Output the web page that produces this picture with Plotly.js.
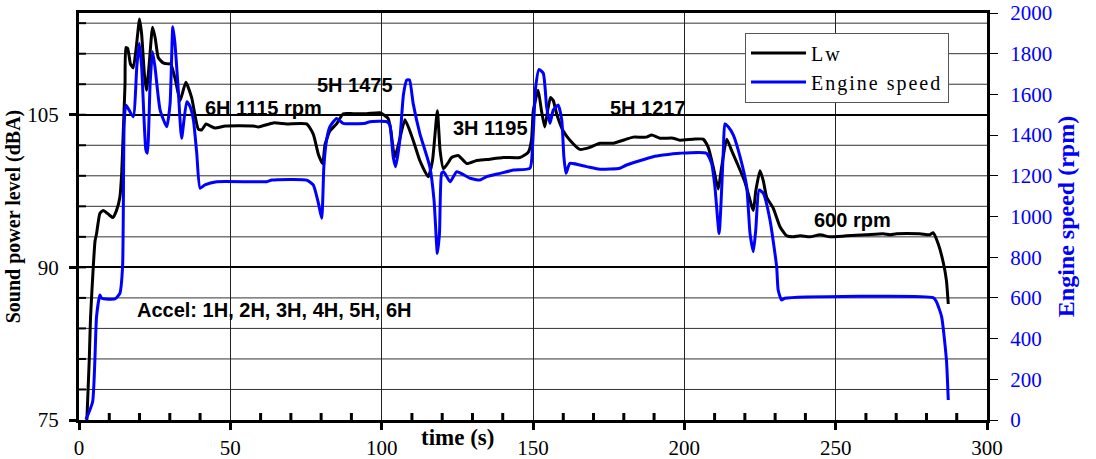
<!DOCTYPE html>
<html>
<head>
<meta charset="utf-8">
<script src="https://cdn.plot.ly/plotly-3.0.1.min.js"></script>
<style>
html,body{margin:0;padding:0;background:#fff;}
#chart{width:1096px;height:459px;}
.legendtext{letter-spacing:2px;}
</style>
</head>
<body>
<div id="chart"></div>
<script>
// Sound power level Lw (dBA) vs time (s)
const lwTime = [2.6,3.4,3.8,4.7,5.3,5.8,6.9,8,10.2,11.2,12.4,13.5,14.1,14.6,15.2,15.5,16.1,17,17.9,18.8,20.0,20.7,21.6,22.3,23.2,24.3,25.2,26.2,27.8,29.5,30.3,31.8,33.4,35.3,37.2,39.4,40.5,42,43.3,44.9,48.4,57.6,59.3,64.2,68.6,75.2,77.4,79.1,80.5,81.3,82.9,85.1,87.3,90.6,95,99.4,101.1,102.2,103,104.3,105.5,107.7,110.4,112.6,115.4,116.8,118.4,119.3,120.4,122,123.1,125.3,128.1,131.4,134.7,140.2,145.7,148.4,149.5,150.1,151.7,152.8,153.9,155,155.8,156.7,157.8,160,162.2,165.5,168.8,172.1,176.5,180.9,183.1,187.5,189.2,191.9,196.3,198.5,202.9,206.2,207.9,209.6,211.2,212.3,214,215.6,217.5,220,222.8,223.6,225,226.1,227.2,229.4,231.6,233.8,236,238.2,241.5,244.8,248.1,253.6,260,265.7,268,270.1,277.8,281.1,282.2,283.9,285.6,286.6,287.2];
const lwValues = [75,81,85,90,92.6,93.3,95.3,95.6,95.1,94.9,95.6,96.9,99.2,103.1,108,111.6,111.5,110,109.6,111.3,114.4,112.9,109,107.4,110,113.6,112.5,110.6,110.1,110,110,108.5,106.4,108.2,106.7,103.6,103.5,104.1,103.9,103.7,103.9,103.9,103.8,104.2,104.1,104.1,103.1,101.1,100.2,102.1,103.4,104.1,105.1,105.1,105.1,105.2,104.9,104.6,103.5,100.8,102,104.5,102.5,100.5,98.9,100.5,105.4,101.5,99.7,100.3,100.8,101,100.2,100.5,100.6,100.8,100.8,101.3,102.5,105.4,107.4,105.4,103.8,105.7,106.7,106.4,105.1,103.4,102.5,101.6,101.8,102.2,102.2,102.6,102.8,102.8,103,102.7,102.7,102.5,102.6,102.6,101.8,99.8,97.7,99.8,102.6,101.5,100.2,98.4,95.6,97.5,99.5,98.5,96.9,95.8,94,93.1,93,93.1,93,93.2,93,93.1,93.2,93.3,93.2,93.3,93.3,93.2,93.4,92.3,90.4,88.7,86.4];

// Engine speed (rpm) vs time (s)
const rpmTime = [2.3,4.5,5.8,6.9,7.5,11.9,13.5,14.4,14.9,15.5,17.9,19.1,19.9,20.7,22.1,22.6,23.5,24.3,25.1,26.8,29,30.1,31,31.7,32.8,33.9,35.6,36.7,37.8,38.9,40,41.6,45.5,62,63.7,75.2,77.4,79.1,80.2,80.9,81.8,82.9,85.1,87.3,94.6,96.1,101.6,102.7,103.8,104.6,106,107.2,108.3,109.2,110.4,112.6,115.9,117.3,118.4,119.1,119.8,120.5,122.6,124.8,129.2,132.5,134.7,139.1,143.5,149,149.9,150.9,152,153.4,154.5,155.6,156.7,158.3,159.5,160.2,160.9,162.2,167.7,172.1,178.7,180.9,189.7,193,198.5,207.3,209,210.1,211.5,212.9,213.4,214.5,216.2,218.4,220.6,221.7,222.8,223.6,224.7,226.1,228.3,230.5,231,232.1,233.2,282.2,283.3,285,286.6,287.2];
const rpmValues = [3,90,508,614,598,595,622,753,1441,1548,1490,1736,1851,1736,1327,1311,1655,1810,1736,1523,1441,1556,1933,1851,1622,1384,1564,1540,1474,1311,1139,1155,1171,1171,1179,1179,1155,1065,991,1245,1376,1441,1482,1458,1458,1466,1466,1450,1294,1245,1376,1600,1671,1671,1556,1409,1245,1081,819,917,1212,1220,1171,1220,1188,1179,1196,1212,1228,1237,1360,1638,1723,1704,1540,1458,1523,1548,1474,1294,1212,1261,1245,1232,1237,1253,1294,1302,1311,1311,1261,1147,917,1327,1455,1441,1400,1294,1147,917,827,934,1130,1114,983,753,639,590,598,601,581,508,295,98];

// Tick values
const xMajorTicks = [0,50,100,150,200,250,300];
const xMinorTicks = [10,20,30,40,60,70,80,90,110,120,130,140,160,170,180,190,210,220,230,240,260,270,280,290];
const yMajorTicks = [75,90,105];
const yMinorTicks = [78,81,84,87,93,96,99,102,108,111,114];
const y2Ticks = [0,200,400,600,800,1000,1200,1400,1600,1800,2000];

// Annotation labels
const noteText = ["6H 1115 rpm","5H 1475","3H 1195","5H 1217","600 rpm","Accel: 1H, 2H, 3H, 4H, 5H, 6H"];
const noteX = [61,91.2,135.9,188.1,255.7,64.6];
const noteY = [105.7,107.9,103.7,105.7,94.66,85.83];

const serif = "Liberation Serif, Times New Roman, serif";
const sans = "Liberation Sans, Arial, sans-serif";

const traces = [
  {x: lwTime, y: lwValues, name: "Lw", type: "scatter", mode: "lines",
   line: {color: "#000000", width: 3, shape: "spline", smoothing: 0.5}, xaxis: "x", yaxis: "y"},
  {x: rpmTime, y: rpmValues, name: "Engine speed", type: "scatter", mode: "lines",
   line: {color: "#0000ff", width: 3, shape: "spline", smoothing: 0.5}, xaxis: "x", yaxis: "y2"}
];

const annotations = noteText.map((t, i) => ({
  x: noteX[i], y: noteY[i], xref: "x", yref: "y", text: "<b>" + t + "</b>", showarrow: false,
  font: {family: sans, size: 20, color: "#000"}, xanchor: "center", yanchor: "middle"
}));
annotations.push({
  x: 0.4163, y: -0.042, xref: "paper", yref: "paper", text: "<b>time (s)</b>",
  showarrow: false, font: {family: serif, size: 23, color: "#000"},
  xanchor: "center", yanchor: "middle"
});

// Minor gridlines every 3 dBA, inward minor ticks on the left axis and on the time axis
const shapes = [];
yMinorTicks.forEach(v => {
  shapes.push({type: "line", layer: "below", xref: "paper", x0: 0, x1: 1, yref: "y", y0: v, y1: v,
               line: {color: "#333", width: 1}});
});
yMinorTicks.concat(yMajorTicks.slice(1)).forEach(v => {
  shapes.push({type: "line", layer: "above", xref: "x", xsizemode: "pixel", xanchor: 0, x0: 0, x1: 7,
               yref: "y", y0: v, y1: v, line: {color: "#000", width: 2}});
});
xMinorTicks.forEach(v => {
  shapes.push({type: "line", layer: "above", yref: "y", ysizemode: "pixel", yanchor: 75, y0: 0, y1: 7,
               xref: "x", x0: v, x1: v, line: {color: "#000", width: 3}});
});

const layout = {
  width: 1096, height: 459,
  margin: {l: 79, r: 109, t: 13, b: 39},
  paper_bgcolor: "#fff", plot_bgcolor: "#fff",
  showlegend: true,
  legend: {x: 0.7335, y: 0.952, xanchor: "left", yanchor: "top",
           bgcolor: "#fff", bordercolor: "#555", borderwidth: 1, itemwidth: 55,
           font: {family: serif, size: 20, color: "#000"}, tracegroupgap: 0},
  xaxis: {
    range: [0, 300], tickmode: "array", tickvals: xMajorTicks, ticktext: xMajorTicks.map(String),
    showgrid: true, gridcolor: "#222", gridwidth: 1, zeroline: false,
    showline: true, linecolor: "#000", linewidth: 3, mirror: true,
    ticks: "outside", ticklen: 7, tickwidth: 3, tickcolor: "#000",
    ticklabelstandoff: 0,
    tickfont: {family: serif, size: 21, color: "#000"}
  },
  yaxis: {
    range: [75, 115], tickmode: "array", tickvals: yMajorTicks, ticktext: yMajorTicks.map(String),
    showgrid: true, gridcolor: "#000", gridwidth: 2, zeroline: false,
    showline: true, linecolor: "#000", linewidth: 3,
    ticks: "outside", ticklen: 7, tickwidth: 3, tickcolor: "#000",
    ticklabelstandoff: 6,
    tickfont: {family: serif, size: 21, color: "#000"},
    title: {text: "<b>Sound power level (dBA)</b>", font: {family: serif, size: 20, color: "#000"}, standoff: 2}
  },
  yaxis2: {
    range: [0, 2000], tickmode: "array", tickvals: y2Ticks, ticktext: y2Ticks.map(String),
    overlaying: "y", anchor: "x", side: "right",
    showgrid: false, zeroline: false,
    showline: true, linecolor: "#000", linewidth: 3,
    ticks: "outside", ticklen: 8, tickwidth: 1, tickcolor: "#000",
    ticklabelstandoff: 8,
    tickfont: {family: serif, size: 21, color: "#0000ff"},
    title: {text: "<b>Engine speed (rpm)</b>", font: {family: serif, size: 24, color: "#0000ff"}, standoff: 6}
  },
  shapes: shapes,
  annotations: annotations
};

Plotly.newPlot("chart", traces, layout, {displayModeBar: false, staticPlot: true});
</script>
</body>
</html>
